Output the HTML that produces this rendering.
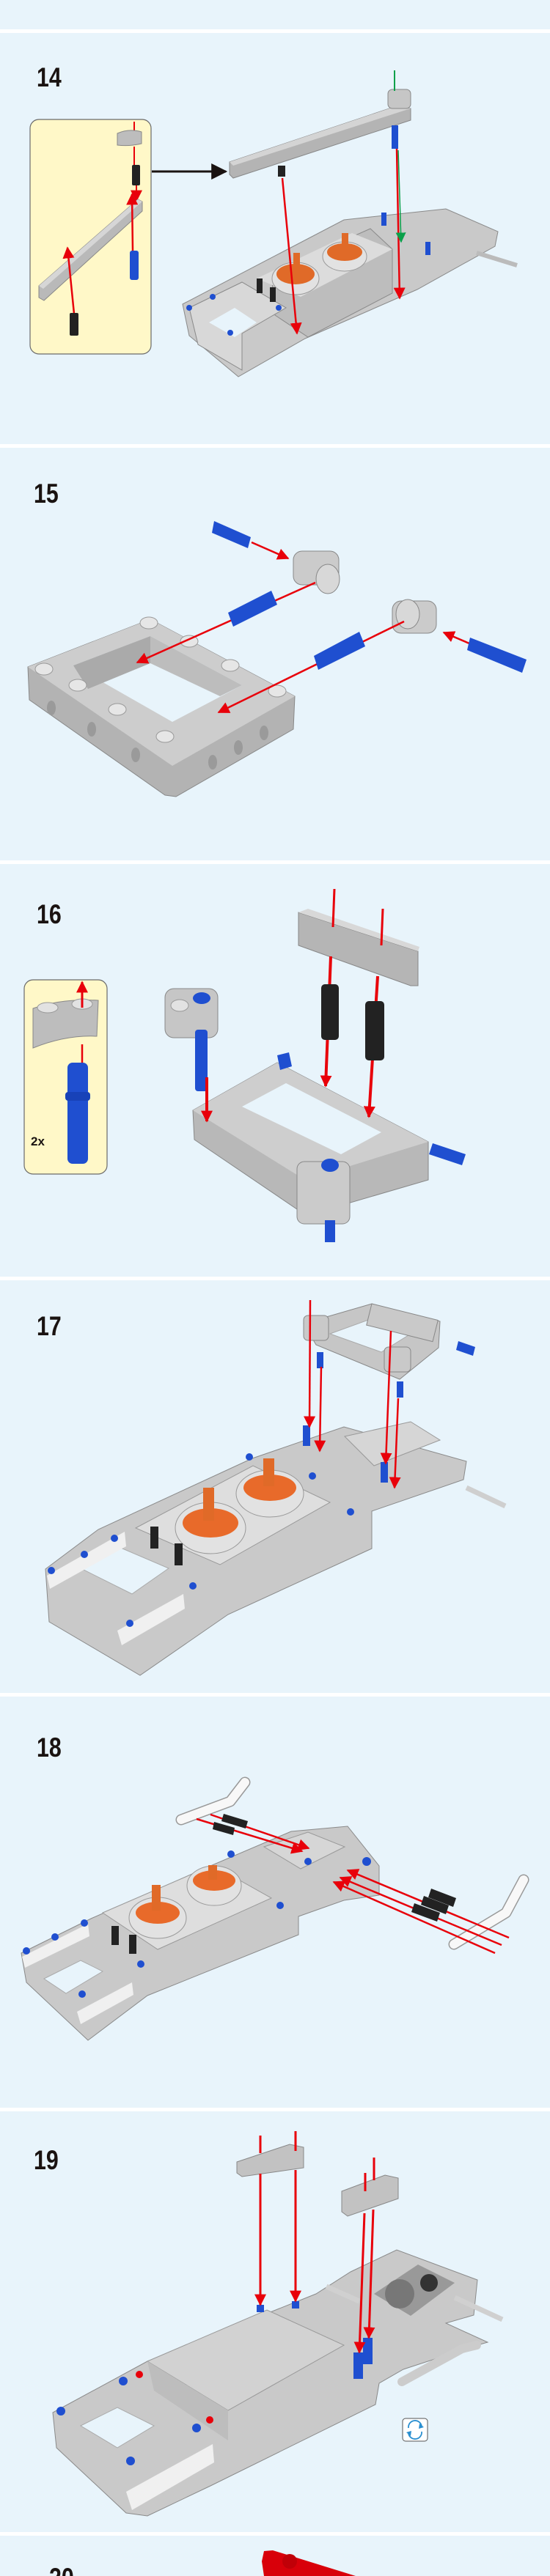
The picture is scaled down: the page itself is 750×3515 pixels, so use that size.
<!DOCTYPE html>
<html><head><meta charset="utf-8">
<style>
html,body{margin:0;padding:0;background:#e8f4fb;}
body{width:750px;height:3515px;overflow:hidden;}
svg{display:block;}
.num{font-family:"Liberation Sans",sans-serif;font-weight:bold;font-size:37px;fill:#1a1311;}
</style></head><body>
<svg width="750" height="3515" viewBox="0 0 750 3515" xmlns="http://www.w3.org/2000/svg">
<defs>
<marker id="ah" viewBox="0 0 10 10" refX="9" refY="5" markerWidth="16" markerHeight="20" markerUnits="userSpaceOnUse" orient="auto"><path d="M0,0 L10,5 L0,10 z" fill="#e8000a"/></marker>
<marker id="ahg" viewBox="0 0 10 10" refX="9" refY="5" markerWidth="14" markerHeight="18" markerUnits="userSpaceOnUse" orient="auto"><path d="M0,0 L10,5 L0,10 z" fill="#0aa04a"/></marker>
<marker id="ahk" viewBox="0 0 10 10" refX="9" refY="5" markerWidth="22" markerHeight="24" markerUnits="userSpaceOnUse" orient="auto"><path d="M0,0 L10,5 L0,10 z" fill="#1a1311"/></marker>
</defs>
<rect width="750" height="3515" fill="#e8f4fb"/>
<g fill="#ffffff">
<rect y="40" width="750" height="5"/>
<rect y="606" width="750" height="5"/>
<rect y="1174" width="750" height="5"/>
<rect y="1742" width="750" height="5"/>
<rect y="2310" width="750" height="5"/>
<rect y="2876" width="750" height="5"/>
<rect y="3455" width="750" height="5"/>
</g>

<!-- ===== 14 ===== -->
<text class="num" x="50" y="118" transform="translate(50 0) scale(0.82 1) translate(-50 0)">14</text>
<rect x="41" y="163" width="165" height="320" rx="12" fill="#fff8c8" stroke="#6a6a6a" stroke-width="1.2"/>
<line x1="183" y1="166" x2="183" y2="180" stroke="#e8000a" stroke-width="2"/>
<path d="M160,182 Q176,175 193,180 L193,196 Q176,200 160,198 Z" fill="#bdbdbd" stroke="#888"/>
<rect x="180" y="225" width="11" height="28" fill="#222" rx="2"/>
<line x1="183" y1="200" x2="183" y2="225" stroke="#e8000a" stroke-width="2"/>
<line x1="186" y1="253" x2="186" y2="274" stroke="#e8000a" stroke-width="2" marker-end="url(#ah)"/>
<polygon points="53,390 188,272 194,275 194,288 60,410 53,406" fill="#b9b9b9" stroke="#888"/>
<polygon points="53,390 188,272 194,275 59,394" fill="#d6d6d6"/>
<line x1="181" y1="342" x2="180" y2="265" stroke="#e8000a" stroke-width="2.5" marker-end="url(#ah)"/>
<rect x="177" y="342" width="12" height="40" fill="#1f4fd0" rx="3"/>
<line x1="101" y1="428" x2="92" y2="338" stroke="#e8000a" stroke-width="2.5" marker-end="url(#ah)"/>
<rect x="95" y="427" width="12" height="31" fill="#222" rx="2"/>
<line x1="207" y1="234" x2="308" y2="234" stroke="#1a1311" stroke-width="3" marker-end="url(#ahk)"/>
<!-- beam -->
<polygon points="313,221 531,148 560,148 560,164 318,243 313,238" fill="#b4b4b4" stroke="#888"/>
<polygon points="313,221 531,148 560,148 318,226" fill="#d4d4d4"/>
<rect x="529" y="122" width="31" height="26" rx="6" fill="#c6c6c6" stroke="#888"/>
<rect x="534" y="171" width="9" height="32" fill="#1f4fd0"/>
<rect x="379" y="226" width="10" height="15" fill="#222"/>
<line x1="538" y1="96" x2="538" y2="124" stroke="#0aa04a" stroke-width="2"/>
<!-- main model 14 -->
<polygon points="249,415 469,300 608,285 679,316 675,336 569,395 416,462 325,514 258,458" fill="#c9c9c9" stroke="#8a8a8a"/>
<polygon points="370,372 505,312 535,340 535,400 420,460 375,430" fill="#bdbdbd" stroke="#8a8a8a"/>
<polygon points="350,380 480,318 535,340 410,405" fill="#dcdcdc"/>
<polygon points="258,420 330,385 390,420 330,455 330,505 270,470" fill="#d8d8d8" stroke="#8a8a8a"/>
<polygon points="285,440 320,420 350,440 320,460" fill="#e8f4fb"/>
<ellipse cx="403" cy="380" rx="32" ry="22" fill="#e2e2e2" stroke="#999"/>
<ellipse cx="403" cy="374" rx="26" ry="14" fill="#e06a28"/>
<rect x="400" y="345" width="9" height="28" fill="#e06a28"/>
<ellipse cx="470" cy="350" rx="30" ry="20" fill="#e2e2e2" stroke="#999"/>
<ellipse cx="470" cy="344" rx="24" ry="12" fill="#e06a28"/>
<rect x="466" y="318" width="9" height="25" fill="#e06a28"/>
<rect x="350" y="380" width="8" height="20" fill="#222"/><rect x="368" y="392" width="8" height="20" fill="#222"/>
<rect x="520" y="290" width="7" height="18" fill="#1f4fd0"/><rect x="580" y="330" width="7" height="18" fill="#1f4fd0"/>
<circle cx="258" cy="420" r="4" fill="#1f4fd0"/><circle cx="290" cy="405" r="4" fill="#1f4fd0"/><circle cx="380" cy="420" r="4" fill="#1f4fd0"/><circle cx="314" cy="454" r="4" fill="#1f4fd0"/>
<line x1="650" y1="345" x2="705" y2="362" stroke="#bbb" stroke-width="6"/>
<line x1="385" y1="243" x2="405" y2="455" stroke="#e8000a" stroke-width="2.5" marker-end="url(#ah)"/>
<line x1="541" y1="203" x2="545" y2="407" stroke="#e8000a" stroke-width="2.5" marker-end="url(#ah)"/>
<line x1="543" y1="205" x2="547" y2="330" stroke="#0aa04a" stroke-width="1.5" marker-end="url(#ahg)"/>

<!-- ===== 15 ===== -->
<text class="num" x="46" y="686" transform="translate(46 0) scale(0.82 1) translate(-46 0)">15</text>
<polygon points="38,910 205,845 402,950 400,995 240,1087 225,1085 40,955" fill="#b3b3b3" stroke="#888"/>
<polygon points="38,910 205,845 402,950 235,1045" fill="#cdcdcd"/>
<polygon points="100,908 205,868 330,935 235,985" fill="#e8f4fb"/>
<polygon points="100,908 205,868 205,905 120,940" fill="#aaaaaa"/>
<polygon points="205,868 330,935 300,950 205,905" fill="#bdbdbd"/>
<g fill="#e6e6e6" stroke="#999">
<ellipse cx="60" cy="913" rx="12" ry="8"/><ellipse cx="106" cy="935" rx="12" ry="8"/><ellipse cx="160" cy="968" rx="12" ry="8"/><ellipse cx="225" cy="1005" rx="12" ry="8"/>
<ellipse cx="203" cy="850" rx="12" ry="8"/><ellipse cx="258" cy="875" rx="12" ry="8"/><ellipse cx="314" cy="908" rx="12" ry="8"/><ellipse cx="378" cy="943" rx="12" ry="8"/>
</g>
<g fill="#9a9a9a"><ellipse cx="70" cy="966" rx="6" ry="10"/><ellipse cx="125" cy="995" rx="6" ry="10"/><ellipse cx="185" cy="1030" rx="6" ry="10"/><ellipse cx="290" cy="1040" rx="6" ry="10"/><ellipse cx="325" cy="1020" rx="6" ry="10"/><ellipse cx="360" cy="1000" rx="6" ry="10"/></g>
<!-- parts -->
<polygon points="292,711 342,733 338,748 289,727" fill="#1f4fd0"/>
<line x1="343" y1="740" x2="393" y2="762" stroke="#e8000a" stroke-width="2.5" marker-end="url(#ah)"/>
<rect x="400" y="752" width="62" height="46" rx="12" fill="#cbcbcb" stroke="#888"/>
<ellipse cx="447" cy="790" rx="16" ry="20" fill="#d8d8d8" stroke="#888"/>
<line x1="430" y1="795" x2="187" y2="904" stroke="#e8000a" stroke-width="2.5" marker-end="url(#ah)"/>
<polygon points="311,836 370,806 378,825 318,855" fill="#1f4fd0"/>
<rect x="535" y="820" width="60" height="44" rx="12" fill="#cbcbcb" stroke="#888"/>
<ellipse cx="556" cy="838" rx="16" ry="20" fill="#d8d8d8" stroke="#888"/>
<line x1="551" y1="848" x2="298" y2="972" stroke="#e8000a" stroke-width="2.5" marker-end="url(#ah)"/>
<polygon points="428,895 490,862 498,882 434,914" fill="#1f4fd0"/>
<line x1="640" y1="878" x2="605" y2="863" stroke="#e8000a" stroke-width="2.5" marker-end="url(#ah)"/>
<polygon points="641,870 718,900 712,918 637,887" fill="#1f4fd0"/>

<!-- ===== 16 ===== -->
<text class="num" x="50" y="1260" transform="translate(50 0) scale(0.82 1) translate(-50 0)">16</text>
<rect x="33" y="1337" width="113" height="265" rx="12" fill="#fff8c8" stroke="#6a6a6a" stroke-width="1.2"/>
<path d="M45,1376 Q85,1362 134,1365 L132,1414 Q90,1412 45,1430 Z" fill="#bdbdbd" stroke="#888"/>
<ellipse cx="65" cy="1375" rx="14" ry="7" fill="#e2e2e2" stroke="#999"/><ellipse cx="112" cy="1370" rx="14" ry="7" fill="#e2e2e2" stroke="#999"/>
<line x1="112" y1="1375" x2="112" y2="1340" stroke="#e8000a" stroke-width="3" marker-end="url(#ah)"/>
<line x1="112" y1="1425" x2="112" y2="1455" stroke="#e8000a" stroke-width="2.5"/>
<rect x="92" y="1450" width="28" height="138" rx="7" fill="#1f4fd0"/>
<rect x="89" y="1490" width="34" height="12" rx="4" fill="#1842b8"/>
<text x="42" y="1563" font-family="Liberation Sans,sans-serif" font-weight="bold" font-size="17" fill="#1a1311">2x</text>
<!-- frame 16 -->
<polygon points="263,1515 378,1450 584,1558 584,1610 430,1655 405,1650 265,1555" fill="#b8b8b8" stroke="#888"/>
<polygon points="263,1515 378,1450 584,1558 416,1610" fill="#cecece"/>
<polygon points="330,1510 390,1478 520,1545 465,1575" fill="#e8f4fb"/>
<rect x="405" y="1585" width="72" height="85" rx="10" fill="#cbcbcb" stroke="#888"/>
<rect x="443" y="1665" width="14" height="30" fill="#1f4fd0"/>
<ellipse cx="450" cy="1590" rx="12" ry="9" fill="#1f4fd0"/>
<polygon points="378,1440 394,1436 398,1455 382,1460" fill="#1f4fd0"/>
<polygon points="590,1560 635,1575 630,1590 585,1575" fill="#1f4fd0"/>
<rect x="225" y="1349" width="72" height="67" rx="12" fill="#c6c6c6" stroke="#888"/>
<ellipse cx="245" cy="1372" rx="12" ry="8" fill="#e2e2e2" stroke="#999"/><ellipse cx="275" cy="1362" rx="12" ry="8" fill="#1f4fd0"/>
<rect x="266" y="1405" width="17" height="84" rx="4" fill="#1f4fd0"/>
<line x1="282" y1="1470" x2="282" y2="1530" stroke="#e8000a" stroke-width="4" marker-end="url(#ah)"/>
<polygon points="407,1245 570,1298 570,1345 560,1345 407,1290" fill="#b5b5b5" stroke="#888"/>
<polygon points="407,1245 420,1240 572,1292 570,1298" fill="#d8d8d8"/>
<line x1="456" y1="1213" x2="454" y2="1265" stroke="#e8000a" stroke-width="3"/>
<line x1="522" y1="1240" x2="520" y2="1290" stroke="#e8000a" stroke-width="3"/>
<line x1="451" y1="1305" x2="444" y2="1482" stroke="#e8000a" stroke-width="4" marker-end="url(#ah)"/>
<line x1="515" y1="1332" x2="503" y2="1524" stroke="#e8000a" stroke-width="4" marker-end="url(#ah)"/>
<rect x="438" y="1343" width="24" height="76" rx="5" fill="#222"/>
<rect x="498" y="1366" width="26" height="81" rx="5" fill="#222"/>

<!-- ===== 17 ===== -->
<text class="num" x="50" y="1822" transform="translate(50 0) scale(0.82 1) translate(-50 0)">17</text>
<polygon points="62,2141 134,2087 344,1990 469,1947 636,1994 632,2019 507,2062 507,2113 311,2203 191,2286 67,2213" fill="#c9c9c9" stroke="#8a8a8a"/>
<polygon points="185,2085 345,2000 450,2050 300,2135" fill="#dedede" stroke="#999"/>
<polygon points="470,1960 560,1940 600,1965 510,2000" fill="#d6d6d6" stroke="#999"/>
<polygon points="110,2140 160,2110 230,2140 180,2175" fill="#e8f4fb" stroke="#aaa"/>
<polygon points="64,2150 170,2090 172,2110 68,2168" fill="#f0f0f0"/>
<polygon points="160,2225 250,2175 252,2195 166,2245" fill="#f0f0f0"/>
<ellipse cx="287" cy="2085" rx="48" ry="35" fill="#e2e2e2" stroke="#999"/>
<ellipse cx="287" cy="2078" rx="38" ry="20" fill="#e86a2a"/>
<rect x="277" y="2030" width="15" height="45" fill="#e06a28"/>
<ellipse cx="368" cy="2038" rx="46" ry="32" fill="#e2e2e2" stroke="#999"/>
<ellipse cx="368" cy="2030" rx="36" ry="18" fill="#e86a2a"/>
<rect x="359" y="1990" width="15" height="38" fill="#e06a28"/>
<rect x="205" y="2083" width="11" height="30" fill="#222"/><rect x="238" y="2106" width="11" height="30" fill="#222"/>
<g fill="#1f4fd0"><circle cx="70" cy="2143" r="5"/><circle cx="115" cy="2121" r="5"/><circle cx="156" cy="2099" r="5"/><circle cx="177" cy="2215" r="5"/><circle cx="263" cy="2164" r="5"/><circle cx="340" cy="1988" r="5"/><circle cx="426" cy="2014" r="5"/><circle cx="478" cy="2063" r="5"/></g>
<line x1="636" y1="2030" x2="689" y2="2055" stroke="#cfcfcf" stroke-width="7"/>
<polygon points="414,1806 507,1779 600,1803 598,1839 545,1882 431,1835" fill="#c6c6c6" stroke="#888"/>
<polygon points="450,1820 505,1800 560,1820 520,1845" fill="#e8f4fb" stroke="#aaa"/>
<rect x="507" y="1779" width="93" height="30" fill="#c9c9c9" stroke="#888" transform="rotate(14 507 1779)"/>
<rect x="414" y="1795" width="34" height="34" rx="6" fill="#c9c9c9" stroke="#888"/>
<rect x="524" y="1838" width="36" height="34" rx="6" fill="#c9c9c9" stroke="#888"/>
<polygon points="625,1830 648,1838 645,1850 622,1842" fill="#1f4fd0"/>
<rect x="432" y="1845" width="9" height="22" fill="#1f4fd0"/><rect x="541" y="1885" width="9" height="22" fill="#1f4fd0"/>
<rect x="413" y="1945" width="10" height="28" fill="#1f4fd0"/><rect x="519" y="1995" width="10" height="28" fill="#1f4fd0"/>
<line x1="423" y1="1774" x2="422" y2="1947" stroke="#e8000a" stroke-width="2.5" marker-end="url(#ah)"/>
<line x1="438" y1="1865" x2="436" y2="1980" stroke="#e8000a" stroke-width="2.5" marker-end="url(#ah)"/>
<line x1="533" y1="1816" x2="526" y2="1997" stroke="#e8000a" stroke-width="2.5" marker-end="url(#ah)"/>
<line x1="543" y1="1908" x2="538" y2="2030" stroke="#e8000a" stroke-width="2.5" marker-end="url(#ah)"/>

<!-- ===== 18 ===== -->
<text class="num" x="50" y="2397" transform="translate(50 0) scale(0.82 1) translate(-50 0)">18</text>
<polygon points="29,2665 124,2618 287,2546 397,2499 474,2492 517,2546 517,2586 469,2593 407,2615 407,2640 201,2723 120,2784 36,2705" fill="#c9c9c9" stroke="#8a8a8a"/>
<polygon points="140,2610 290,2545 370,2590 215,2660" fill="#dedede" stroke="#999"/>
<polygon points="360,2520 420,2500 470,2520 410,2550" fill="#d6d6d6" stroke="#999"/>
<polygon points="60,2700 110,2675 140,2690 90,2720" fill="#e8f4fb" stroke="#aaa"/>
<polygon points="30,2670 120,2625 122,2642 34,2685" fill="#f0f0f0"/>
<polygon points="105,2745 180,2705 182,2722 110,2762" fill="#f0f0f0"/>
<ellipse cx="215" cy="2617" rx="39" ry="28" fill="#e2e2e2" stroke="#999"/>
<ellipse cx="215" cy="2610" rx="30" ry="15" fill="#e86a2a"/>
<rect x="207" y="2572" width="12" height="35" fill="#e06a28"/>
<ellipse cx="292" cy="2573" rx="37" ry="27" fill="#e2e2e2" stroke="#999"/>
<ellipse cx="292" cy="2566" rx="29" ry="14" fill="#e86a2a"/>
<rect x="284" y="2545" width="12" height="20" fill="#e06a28"/>
<rect x="152" y="2628" width="10" height="26" fill="#222"/><rect x="176" y="2640" width="10" height="26" fill="#222"/>
<g fill="#1f4fd0"><circle cx="36" cy="2662" r="5"/><circle cx="75" cy="2643" r="5"/><circle cx="115" cy="2624" r="5"/><circle cx="112" cy="2721" r="5"/><circle cx="192" cy="2680" r="5"/><circle cx="315" cy="2530" r="5"/><circle cx="382" cy="2600" r="5"/><circle cx="420" cy="2540" r="5"/><circle cx="500" cy="2540" r="6"/></g>
<polyline points="247,2483 314,2458 334,2432" fill="none" stroke="#999" stroke-width="15" stroke-linejoin="round" stroke-linecap="round"/>
<polyline points="247,2483 314,2458 334,2432" fill="none" stroke="#f8f8f8" stroke-width="12" stroke-linejoin="round" stroke-linecap="round"/>
<polyline points="619,2653 690,2610 714,2565" fill="none" stroke="#999" stroke-width="15" stroke-linejoin="round" stroke-linecap="round"/>
<polyline points="619,2653 690,2610 714,2565" fill="none" stroke="#f8f8f8" stroke-width="12" stroke-linejoin="round" stroke-linecap="round"/>
<g stroke="#e8000a" stroke-width="2.5">
<line x1="268" y1="2482" x2="412" y2="2526" marker-end="url(#ah)"/>
<line x1="287" y1="2476" x2="421" y2="2522" marker-end="url(#ah)"/>
<line x1="694" y1="2644" x2="474" y2="2552" marker-end="url(#ah)"/>
<line x1="684" y1="2654" x2="464" y2="2562" marker-end="url(#ah)"/>
<line x1="675" y1="2665" x2="455" y2="2568" marker-end="url(#ah)"/>
</g>
<g fill="#222"><polygon points="292,2486 320,2494 318,2504 290,2496"/><polygon points="305,2475 338,2485 335,2495 302,2485"/>
<polygon points="565,2597 600,2610 596,2622 561,2609"/><polygon points="578,2587 612,2600 608,2612 574,2599"/><polygon points="588,2577 622,2590 618,2602 584,2589"/></g>

<!-- ===== 19 ===== -->
<text class="num" x="46" y="2960" transform="translate(46 0) scale(0.82 1) translate(-46 0)">19</text>
<polygon points="72,3292 201,3222 431,3130 478,3100 541,3070 651,3111 646,3159 608,3170 665,3196 651,3200 550,3233 517,3252 512,3281 287,3392 201,3433 172,3429 77,3340" fill="#c9c9c9" stroke="#8a8a8a"/>
<polygon points="201,3222 364,3152 469,3200 311,3289" fill="#d2d2d2" stroke="#999"/>
<polygon points="201,3222 311,3289 311,3330 210,3262" fill="#bdbdbd"/>
<polygon points="110,3310 160,3285 210,3310 160,3340" fill="#e8f4fb" stroke="#aaa"/>
<polygon points="172,3400 290,3335 292,3360 180,3425" fill="#f0f0f0"/>
<polygon points="510,3130 570,3090 620,3115 560,3160" fill="#999"/>
<circle cx="545" cy="3130" r="20" fill="#777"/><circle cx="585" cy="3115" r="12" fill="#333"/>
<polyline points="548,3250 630,3205 650,3200" fill="none" stroke="#ccc" stroke-width="12" stroke-linecap="round"/>
<line x1="445" y1="3120" x2="490" y2="3140" stroke="#d0d0d0" stroke-width="7"/>
<line x1="620" y1="3135" x2="685" y2="3165" stroke="#d0d0d0" stroke-width="7"/>
<g fill="#1f4fd0"><circle cx="83" cy="3290" r="6"/><circle cx="168" cy="3249" r="6"/><circle cx="178" cy="3358" r="6"/><circle cx="268" cy="3313" r="6"/></g>
<g fill="#e8000a"><circle cx="190" cy="3240" r="5"/><circle cx="286" cy="3302" r="5"/></g>
<rect x="482" y="3210" width="13" height="36" fill="#1f4fd0"/><rect x="495" y="3190" width="13" height="36" fill="#1f4fd0"/>
<rect x="350" y="3145" width="10" height="10" fill="#1f4fd0"/><rect x="398" y="3140" width="10" height="10" fill="#1f4fd0"/>
<polygon points="323,2950 395,2926 414,2930 414,2958 330,2970 323,2965" fill="#c2c2c2" stroke="#888"/>
<polygon points="466,2990 525,2968 543,2972 543,3000 474,3024 466,3018" fill="#c2c2c2" stroke="#888"/>
<g stroke="#e8000a" stroke-width="3">
<line x1="355" y1="2914" x2="355" y2="2938"/><line x1="403" y1="2908" x2="403" y2="2935"/>
<line x1="498" y1="2965" x2="498" y2="2990"/><line x1="510" y1="2944" x2="510" y2="2975"/>
<line x1="355" y1="2966" x2="355" y2="3145" marker-end="url(#ah)"/>
<line x1="403" y1="2961" x2="403" y2="3140" marker-end="url(#ah)"/>
<line x1="497" y1="3020" x2="490" y2="3210" marker-end="url(#ah)"/>
<line x1="509" y1="3015" x2="503" y2="3190" marker-end="url(#ah)"/>
</g>
<rect x="549" y="3300" width="34" height="31" rx="4" fill="#fff" stroke="#555" stroke-width="1"/>
<path d="M557,3313 A9,9 0 0 1 575,3311" fill="none" stroke="#2a8fd0" stroke-width="1.8"/>
<path d="M575,3318 A9,9 0 0 1 557,3320" fill="none" stroke="#2a8fd0" stroke-width="1.8"/>
<path d="M572,3307 L578,3312 L571,3314 Z" fill="#2a8fd0"/><path d="M560,3324 L554,3319 L561,3317 Z" fill="#2a8fd0"/>

<!-- ===== 20 ===== -->
<text class="num" x="67" y="3530" transform="translate(67 0) scale(0.82 1) translate(-67 0)">20</text>
<polygon points="360,3481 372,3480 485,3515 360,3515 357,3495" fill="#d8000a"/>
<circle cx="395" cy="3495" r="10" fill="#c00008"/>
</svg>
</body></html>
